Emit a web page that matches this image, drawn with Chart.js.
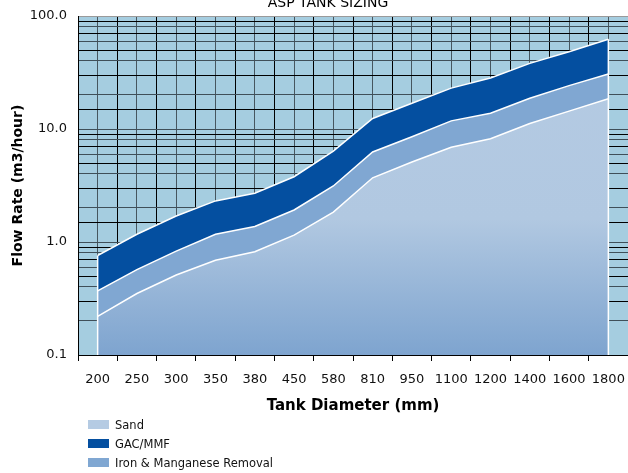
<!DOCTYPE html>
<html>
<head>
<meta charset="utf-8">
<script src="https://cdn.jsdelivr.net/npm/chart.js@4.4.0/dist/chart.umd.min.js"></script>
<style>
  html, body { margin: 0; padding: 0; background: #fff; }
  #wrap { position: relative; width: 628px; height: 473px; overflow: hidden; }
  #legend { position: absolute; left: 88px; top: 415px; font: 11.5px "DejaVu Sans", sans-serif; color: #111; }
  #legend .row { height: 19px; display: flex; align-items: center; }
  #legend .box { display: inline-block; width: 21px; height: 9px; margin-right: 6px; }
</style>
</head>
<body>
<div id="wrap">
  <canvas id="chart" width="628" height="473"></canvas>
  <div id="legend"></div>
</div>
<script>
// tank sizes along the bottom
const diameters = ['200', '250', '300', '350', '380', '450', '580', '810', '950', '1100', '1200', '1400', '1600', '1800'];

// flow rate (m3/hour) for each filter type
const sandFlow = [0.22, 0.35, 0.51, 0.69, 0.82, 1.15, 1.84, 3.7, 5.1, 6.9, 8.2, 11.2, 14.4, 18.5];
const ironFlow = [0.37, 0.57, 0.83, 1.17, 1.37, 1.92, 3.13, 6.26, 8.55, 11.8, 13.8, 18.7, 24.2, 30.7];
const gacFlow = [0.76, 1.17, 1.70, 2.31, 2.70, 3.78, 6.38, 12.4, 16.9, 23.0, 28.3, 38.1, 48.3, 62.2];

const seriesNames = ['Sand', 'GAC/MMF', 'Iron & Manganese Removal'];
const swatchColors = ['#b5cbe3', '#044fa0', '#80a7d2'];

const yTickValues = [0.1, 1, 10, 100];
const yTickLabels = ['0.1', '1.0', '10.0', '100.0'];

const chartTitle = 'ASP TANK SIZING';
const fontFamily = '"DejaVu Sans", Verdana, sans-serif';

function toPoints(values) {
    return values.map((v, i) => ({ x: i, y: v }));
}

function sandFill(context) {
    const chartArea = context.chart.chartArea;
    if (!chartArea) return swatchColors[0];
    const g = context.chart.ctx.createLinearGradient(0, chartArea.top, 0, chartArea.bottom);
    g.addColorStop(0, '#b5cbe3');
    g.addColorStop(0.6, '#b1c8e1');
    g.addColorStop(1, '#7ea4cf');
    return g;
}

// light blue plot background
const plotBackground = {
    id: 'plotBackground',
    beforeDraw(chart) {
        const { ctx, chartArea } = chart;
        ctx.save();
        ctx.fillStyle = '#a5cde0';
        ctx.fillRect(chartArea.left, chartArea.top, chartArea.right - chartArea.left, chartArea.bottom - chartArea.top);
        ctx.restore();
    }
};

// white outline at the two ends of the filled areas
const areaEdges = {
    id: 'areaEdges',
    afterDatasetsDraw(chart) {
        const pts = chart.getDatasetMeta(1).data;
        if (!pts.length) return;
        const ctx = chart.ctx;
        ctx.save();
        ctx.strokeStyle = '#ffffff';
        ctx.lineWidth = 1.5;
        [pts[0], pts[pts.length - 1]].forEach(p => {
            ctx.beginPath();
            ctx.moveTo(p.x, p.y);
            ctx.lineTo(p.x, chart.chartArea.bottom);
            ctx.stroke();
        });
        ctx.restore();
    }
};

// title sits half off the top of the picture
const topTitle = {
    id: 'topTitle',
    afterDraw(chart) {
        const ctx = chart.ctx;
        ctx.save();
        ctx.font = '14px ' + fontFamily;
        ctx.fillStyle = '#000';
        ctx.textAlign = 'center';
        ctx.textBaseline = 'alphabetic';
        ctx.fillText(chartTitle, 328, 7);
        ctx.restore();
    }
};

const ctx = document.getElementById('chart').getContext('2d');
const chart = new Chart(ctx, {
    type: 'line',
    data: {
        datasets: [
            {
                label: seriesNames[0],
                data: toPoints(sandFlow),
                backgroundColor: sandFill,
                borderColor: '#ffffff',
                borderWidth: 1.5,
                fill: 'start',
                pointRadius: 0,
                order: 1
            },
            {
                label: seriesNames[1],
                data: toPoints(gacFlow),
                backgroundColor: swatchColors[1],
                borderColor: '#ffffff',
                borderWidth: 1.5,
                fill: 'start',
                pointRadius: 0,
                order: 3
            },
            {
                label: seriesNames[2],
                data: toPoints(ironFlow),
                backgroundColor: swatchColors[2],
                borderColor: '#ffffff',
                borderWidth: 1.5,
                fill: 'start',
                pointRadius: 0,
                order: 2
            }
        ]
    },
    options: {
        responsive: false,
        animation: false,
        layout: { padding: { top: 16, right: 0, bottom: 56, left: 0 } },
        plugins: {
            legend: { display: false },
            title: { display: false },
            tooltip: { enabled: false }
        },
        scales: {
            x: {
                type: 'linear',
                min: -0.5,
                max: 13.5,
                afterFit: s => { s.height = 62; },
                border: { color: '#000', width: 1 },
                grid: {
                    color: c => Number.isInteger(c.tick.value) ? '#46565f' : '#000',
                    tickColor: c => Number.isInteger(c.tick.value) ? 'rgba(0,0,0,0)' : '#000',
                    tickLength: 6,
                    lineWidth: 1
                },
                ticks: {
                    stepSize: 0.5,
                    autoSkip: false,
                    maxRotation: 0,
                    padding: 0,
                    color: '#111',
                    font: { family: fontFamily, size: 13, lineHeight: 2.9 },
                    callback: v => Number.isInteger(v) ? diameters[v] : ''
                },
                title: {
                    display: true,
                    text: 'Tank Diameter (mm)',
                    color: '#000',
                    font: { family: fontFamily, size: 15, weight: 'bold' },
                    padding: { top: 0, bottom: 2 }
                }
            },
            y: {
                type: 'logarithmic',
                min: 0.1,
                max: 100,
                afterFit: s => { s.width = 78; },
                border: { color: '#000', width: 1 },
                grid: {
                    color: c => c.tick && c.tick.value === 100 ? '#9a9a9a' : (c.index % 2 ? '#3f4f59' : '#000'),
                    lineWidth: 1,
                    drawTicks: true,
                    tickLength: 11,
                    tickColor: 'rgba(0,0,0,0)'
                },
                ticks: {
                    autoSkip: false,
                    padding: 0,
                    color: '#111',
                    font: { family: fontFamily, size: 13 },
                    callback: v => {
                        const k = yTickValues.findIndex(t => Math.abs(t - v) < t * 1e-6);
                        return k >= 0 ? yTickLabels[k] : '';
                    }
                },
                title: {
                    display: true,
                    text: 'Flow Rate (m3/hour)',
                    color: '#000',
                    font: { family: fontFamily, size: 14, weight: 'bold' },
                    padding: { top: 10, bottom: 0 }
                }
            }
        }
    },
    plugins: [plotBackground, areaEdges, topTitle]
});

// legend listed top to bottom under the axis title
const legend = document.getElementById('legend');
seriesNames.forEach((name, i) => {
    const row = document.createElement('div');
    row.className = 'row';
    const box = document.createElement('span');
    box.className = 'box';
    box.style.background = swatchColors[i];
    row.appendChild(box);
    row.appendChild(document.createTextNode(name));
    legend.appendChild(row);
});
</script>
</body>
</html>
